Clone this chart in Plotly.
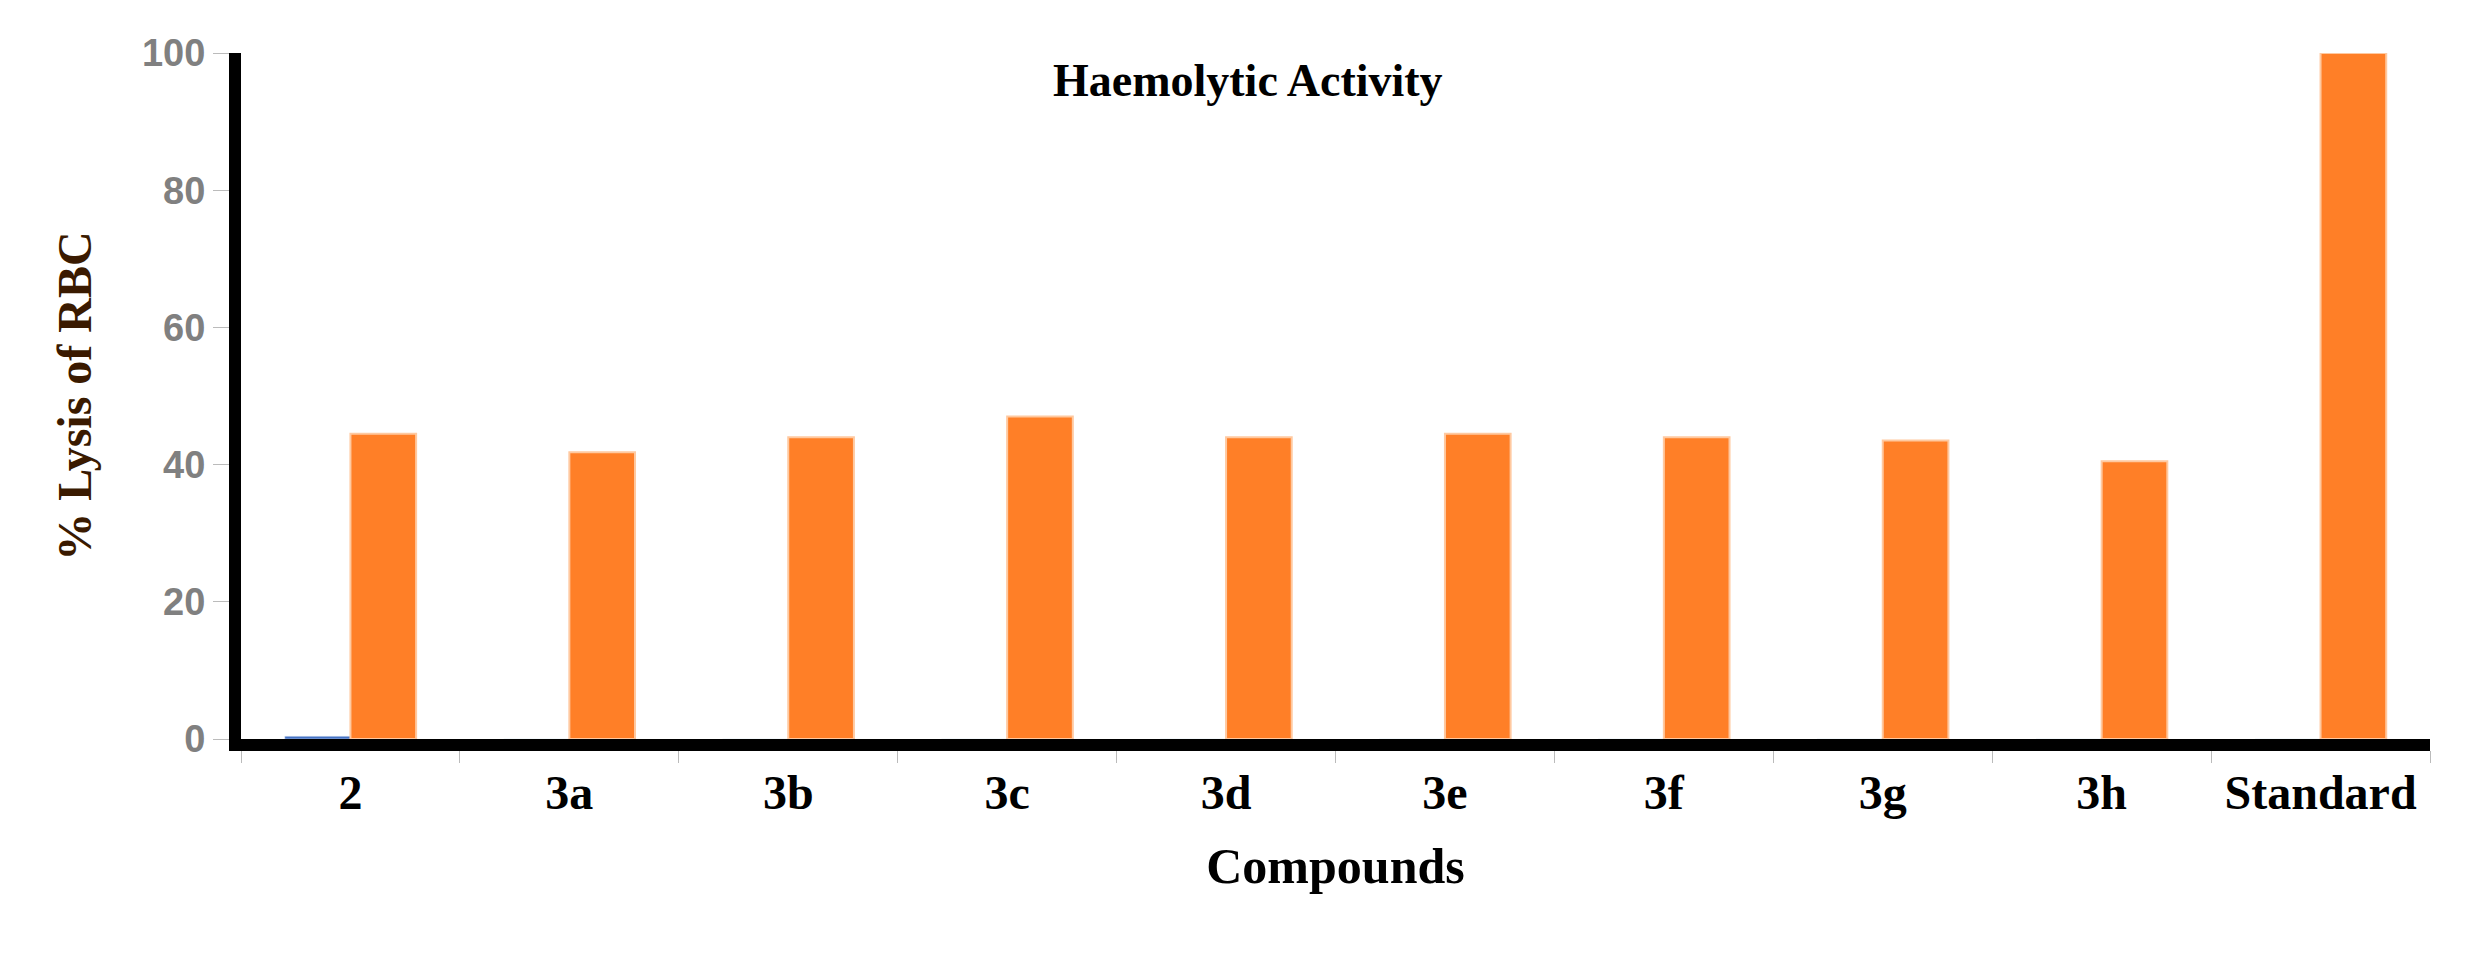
import plotly.graph_objects as go

categories = ["2", "3a", "3b", "3c", "3d", "3e", "3f", "3g", "3h", "Standard"]
control_values = [0.4, 0, 0, 0, 0, 0, 0, 0, 0, 0]
lysis_values = [44.5, 41.8, 44.0, 47.0, 44.0, 44.5, 44.0, 43.5, 40.5, 100]
y_ticks = [0, 20, 40, 60, 80, 100]

fig = go.Figure()
fig.add_bar(x=categories, y=control_values, marker_color="#4472C4", showlegend=False)
fig.add_bar(x=categories, y=lysis_values, marker=dict(color="#FF7F27", line=dict(color="#FFC9A0", width=2)), showlegend=False)

serif = "Liberation Serif"
fig.update_layout(
    width=2473, height=963, plot_bgcolor="white", paper_bgcolor="white",
    barmode="group", bargap=0.4, bargroupgap=0,
    margin=dict(l=233, r=51, t=45, b=232),
    annotations=[dict(text="<b>Haemolytic Activity</b>", x=0.46, y=1.0, xref="paper", yref="paper",
                      showarrow=False, font=dict(family=serif, size=46, color="black"), yanchor="top")],
)
fig.update_xaxes(showline=True, linecolor="black", linewidth=12, tickson="boundaries",
                 ticks="outside", tickcolor="#bbbbbb", ticklen=12,
                 tickfont=dict(family=serif, size=48, color="black", weight="bold"),
                 title=dict(text="<b>Compounds</b>", font=dict(family=serif, size=50, color="black"), standoff=35))
fig.update_yaxes(range=[0, 100], tickvals=y_ticks, showline=True, linecolor="black", linewidth=12,
                 showgrid=False, zeroline=False, ticks="outside", tickcolor="#bbbbbb", ticklen=16,
                 tickfont=dict(family="Liberation Sans", size=38, color="#808080", weight="bold"),
                 title=dict(text="<b>% Lysis of RBC</b>", font=dict(family=serif, size=48, color="#3a1a00"), standoff=40))
fig.write_html("out.html")
